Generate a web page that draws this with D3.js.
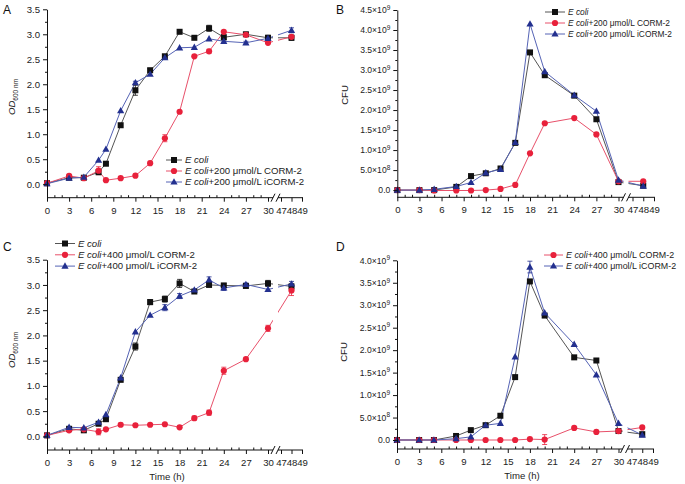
<!DOCTYPE html>
<html><head><meta charset="utf-8">
<script src="https://cdn.jsdelivr.net/npm/d3@7/dist/d3.min.js"></script>
<style>
body{margin:0;background:#fff;}
svg{display:block;font-family:"Liberation Sans",Arial,sans-serif;}
</style></head>
<body><svg id="c" width="685" height="484"></svg>
<script>
// ---------- DATA ----------
const timesOD  = [0,3,5,7,8,10,12,14,16,18,20,22,24,27,30,48];
const timesCFU = [0,3,5,8,10,12,14,16,18,20,24,27,30,48];
const xTickLabels = [0,3,6,9,12,15,18,21,24,27,30,47,48,49];

// Panel A : OD600, 200 µmol/L
const A_ecoli     = [0.02,0.13,0.13,0.24,0.41,1.18,1.88,2.28,2.56,3.05,2.93,3.12,2.94,3.00,2.93,2.93];
const A_ecoliErr  = [0,0,0,0.03,0,0,0.10,0.04,0,0,0,0.06,0.05,0.03,0.05,0.05];
const A_corm      = [0.02,0.165,0.12,0.27,0.08,0.12,0.17,0.42,0.92,1.45,2.56,2.66,3.05,2.99,2.83,2.95];
const A_cormErr   = [0,0,0,0.08,0,0,0,0,0.07,0,0,0.04,0,0,0,0];
const A_icorm     = [0.01,0.12,0.14,0.48,0.70,1.47,2.03,2.20,2.53,2.73,2.74,2.91,2.86,2.83,2.92,3.08];
const A_icormErr  = [0,0,0,0,0,0,0.03,0,0,0,0,0,0.04,0.03,0,0.05];

// Panel B : CFU (×10^9), 200 µmol/L
const B_ecoli = [0,0,0,0.08,0.35,0.42,0.54,1.18,3.44,2.87,2.36,1.77,0.20,0.11];
const B_corm  = [0,0,-0.01,-0.01,-0.01,0,0.03,0.13,0.92,1.67,1.80,1.39,0.22,0.22];
const B_icorm = [0,0,0.02,0.09,0.19,0.43,0.52,1.19,4.15,2.96,2.37,1.97,0.25,0.10];

// Panel C : OD600, 400 µmol/L
const C_ecoli     = [0.02,0.15,0.12,0.25,0.34,1.12,1.78,2.66,2.72,3.03,2.87,3.00,2.99,2.98,3.03,2.97];
const C_ecoliErr  = [0,0,0,0,0.03,0.03,0.07,0.05,0.06,0.08,0,0,0.04,0,0.06,0.05];
const C_corm      = [0.02,0.12,0.14,0.09,0.14,0.23,0.22,0.23,0.24,0.18,0.36,0.47,1.30,1.53,2.14,2.89];
const C_cormErr   = [0,0.03,0,0.06,0,0.03,0,0,0,0,0.04,0.05,0.07,0,0.06,0.10];
const C_icorm     = [0.02,0.18,0.17,0.28,0.43,1.16,2.07,2.40,2.55,2.78,2.90,3.10,2.94,3.01,2.91,3.02];
const C_icormErr  = [0,0,0,0,0,0,0,0,0.06,0.05,0,0.06,0.05,0.03,0,0.05];

// Panel D : CFU (×10^9), 400 µmol/L
const D_ecoli = [0,0,0,0.09,0.22,0.33,0.54,1.40,3.53,2.77,1.84,1.77,0.20,0.13];
const D_corm  = [0,0,0,0,0,0,0,0,0.02,0.01,0.27,0.18,0.20,0.28];
const D_cormErr = [0,0,0,0,0,0,0,0,0,0.11,0,0,0,0];
const D_icorm = [0,0,0,0.03,0.07,0.33,0.37,1.85,3.85,2.83,2.13,1.45,0.37,0.11];
const D_icormErr = [0,0,0,0,0,0,0,0,0.13,0,0,0,0,0];

const odTicks  = [0,0.5,1,1.5,2,2.5,3,3.5];
const cfuTicksB = [0,0.5,1,1.5,2,2.5,3,3.5,4,4.5];
const cfuTicksD = [0,0.5,1,1.5,2,2.5,3,3.5,4];

const legendEcoli = "E coli";
// ---------- STYLE ----------
const COL = {
  k:{mark:"#111", line:"#555"},
  r:{mark:"#e8213b", line:"#e8506a"},
  b:{mark:"#23308f", line:"#5563b5"}
};
const svg = d3.select("#c");
const FS = 9.6;

function cfuLabel(txt, v){
  txt.text(null);
  if (v===0){ txt.text("0.0"); return; }
  let mant, exp;
  if (v<1){ mant=(v*10).toFixed(1); exp="8"; } else { mant=v.toFixed(1); exp="9"; }
  txt.append("tspan").text(mant+"×10");
  txt.append("tspan").attr("dy",-3.5).attr("font-size",6.5).text(exp);
}

function drawMarker(g, type, cx, cy, color){
  if(type==="k") g.append("rect").attr("x",cx-3).attr("y",cy-3).attr("width",6).attr("height",6).attr("fill",color);
  else if(type==="r") g.append("circle").attr("cx",cx).attr("cy",cy).attr("r",3.1).attr("fill",color);
  else g.append("path").attr("d",`M${cx},${cy-3.8}L${cx+3.6},${cy+2.6}L${cx-3.6},${cy+2.6}Z`).attr("fill",color);
}

function panel(cfg){
  const g = svg.append("g");
  const x = d3.scaleLinear().domain([0,30,47,49]).range(cfg.xr);
  const y = d3.scaleLinear().domain(cfg.yDom).range([cfg.bottom,cfg.top]);
  const left = cfg.xr[0], right = cfg.xr[3];
  const brk = cfg.brk;

  // lines
  cfg.series.forEach(s=>{
    const pts = cfg.times.map((t,i)=>[x(t), y(s.vals[i])]);
    g.append("path").attr("d",d3.line()(pts)).attr("fill","none")
      .attr("stroke",COL[s.type].line).attr("stroke-width",1);
  });
  // break gap in lines
  g.append("rect").attr("x",brk-2.5).attr("y",cfg.top-2).attr("width",5).attr("height",cfg.bottom-cfg.top).attr("fill","#fff");
  // error bars
  cfg.series.forEach(s=>{
    cfg.times.forEach((t,i)=>{
      const e = s.err ? s.err[i] : 0;
      const cx = x(t);
      if(e>0){
        const c = COL[s.type].mark;
        g.append("line").attr("x1",cx).attr("x2",cx).attr("y1",y(s.vals[i]-e)).attr("y2",y(s.vals[i]+e)).attr("stroke",c).attr("stroke-width",0.8);
        [s.vals[i]-e,s.vals[i]+e].forEach(v=>g.append("line").attr("x1",cx-2.5).attr("x2",cx+2.5).attr("y1",y(v)).attr("y2",y(v)).attr("stroke",c).attr("stroke-width",0.8));
      }
    });
  });
  cfg.series.forEach(s=>{
    cfg.times.forEach((t,i)=>drawMarker(g,s.type,x(t),y(s.vals[i]),COL[s.type].mark));
  });

  // x axis
  const xa = g.append("g").attr("transform",`translate(0,${cfg.bottom})`)
    .call(d3.axisBottom(x).tickValues(xTickLabels).tickSize(4).tickFormat(d=>d));
  xa.select(".domain").remove();
  xa.selectAll("text").attr("font-size",FS).attr("font-family","Liberation Sans, Arial, sans-serif").attr("fill","#222").attr("dy","0.95em");
  xa.selectAll("line").attr("stroke","#111");
  const minors = d3.range(1,31).filter(v=>v%3!==0);
  const xm = g.append("g").attr("transform",`translate(0,${cfg.bottom})`)
    .call(d3.axisBottom(x).tickValues(minors).tickSize(-2.5).tickFormat(""));
  xm.select(".domain").remove();
  xm.selectAll("line").attr("stroke","#111");
  g.append("line").attr("x1",left).attr("x2",brk-2.5).attr("y1",cfg.bottom).attr("y2",cfg.bottom).attr("stroke","#111");
  g.append("line").attr("x1",brk+2.5).attr("x2",right+1).attr("y1",cfg.bottom).attr("y2",cfg.bottom).attr("stroke","#111");
  [-2.5,2.5].forEach(dx=>g.append("line").attr("x1",brk+dx-2).attr("x2",brk+dx+2).attr("y1",cfg.bottom+4).attr("y2",cfg.bottom-4).attr("stroke","#111"));

  // y axis
  const ya = g.append("g").attr("transform",`translate(${left},0)`)
    .call(d3.axisLeft(y).tickValues(cfg.yTicks).tickSize(4).tickSizeOuter(0).tickFormat(d=>d3.format(".1f")(d)));
  ya.select(".domain").attr("stroke","#111");
  ya.selectAll("line").attr("stroke","#111");
  ya.selectAll("text").attr("font-size",cfg.cfu?8.6:FS).attr("font-family","Liberation Sans, Arial, sans-serif").attr("fill","#222");
  if(cfg.cfu) ya.selectAll(".tick text").each(function(d){ cfuLabel(d3.select(this), d); });
  const ymin = [];
  for(let i=0;i<cfg.yTicks.length-1;i++) ymin.push((cfg.yTicks[i]+cfg.yTicks[i+1])/2);
  const ym = g.append("g").attr("transform",`translate(${left},0)`)
    .call(d3.axisLeft(y).tickValues(ymin).tickSize(2).tickFormat(""));
  ym.select(".domain").remove();
  ym.selectAll("line").attr("stroke","#111");

  // y title
  const yt = g.append("text").attr("transform",`translate(${cfg.ytX},${cfg.ytY}) rotate(-90)`)
    .attr("text-anchor","middle").attr("font-size",FS).attr("fill","#222");
  if(cfg.cfu){ yt.text("CFU"); }
  else {
    yt.append("tspan").attr("font-style","italic").text("OD");
    yt.append("tspan").attr("font-size",6.5).attr("dy",2.5).text("600 nm");
  }
  if(cfg.xTitle) g.append("text").attr("x",cfg.xtX).attr("y",cfg.bottom+30).attr("text-anchor","middle")
    .attr("font-size",FS).attr("fill","#222").text("Time (h)");

  // panel letter
  g.append("text").attr("x",cfg.lx).attr("y",cfg.ly).attr("font-size",12).attr("fill","#111").text(cfg.letter);

  // legend
  const L = cfg.legend;
  L.rows.forEach((r,i)=>{
    const ly = L.y + i*L.dy;
    g.append("line").attr("x1",L.x).attr("x2",L.x+L.w).attr("y1",ly).attr("y2",ly).attr("stroke",COL[r.type].line);
    drawMarker(g,r.type,L.x+L.w/2,ly,COL[r.type].mark);
    const t = g.append("text").attr("x",L.x+L.w+3).attr("y",ly+3.3).attr("font-size",L.fs).attr("fill","#222");
    t.append("tspan").attr("font-style","italic").text(legendEcoli);
    if(r.suffix) t.append("tspan").text(r.suffix);
  });
}

panel({letter:"A",lx:3,ly:14,xr:[47,268,281,302],brk:275.5,top:9.3,bottom:197.7,yDom:[-0.27,3.5],yTicks:odTicks,
  times:timesOD,ytX:15,ytY:97,
  series:[{type:"k",vals:A_ecoli,err:A_ecoliErr},{type:"r",vals:A_corm,err:A_cormErr},{type:"b",vals:A_icorm,err:A_icormErr}],
  legend:{x:166,y:160,dy:11,w:16,fs:9.6,rows:[{type:"k"},{type:"r",suffix:"+200 μmol/L CORM-2"},{type:"b",suffix:"+200 μmol/L iCORM-2"}]}});

panel({letter:"B",lx:336,ly:14,xr:[397.3,618.5,632.5,654],brk:626,top:10,bottom:197.3,yDom:[-0.18,4.5],yTicks:cfuTicksB,cfu:true,
  times:timesCFU,ytX:348,ytY:95,
  series:[{type:"k",vals:B_ecoli},{type:"r",vals:B_corm},{type:"b",vals:B_icorm}],
  legend:{x:545,y:12,dy:11,w:20,fs:8.4,rows:[{type:"k"},{type:"r",suffix:"+200 μmol/L CORM-2"},{type:"b",suffix:"+200 μmol/L iCORM-2"}]}});

panel({letter:"C",lx:3,ly:251,xr:[47,268,281,302],brk:275.5,top:259.7,bottom:450,yDom:[-0.27,3.5],yTicks:odTicks,xTitle:true,xtX:167,
  times:timesOD,ytX:15,ytY:350,
  series:[{type:"k",vals:C_ecoli,err:C_ecoliErr},{type:"r",vals:C_corm,err:C_cormErr},{type:"b",vals:C_icorm,err:C_icormErr}],
  legend:{x:55,y:243.5,dy:11.3,w:20,fs:9.6,rows:[{type:"k"},{type:"r",suffix:"+400 μmol/L CORM-2"},{type:"b",suffix:"+400 μmol/L iCORM-2"}]}});

panel({letter:"D",lx:336,ly:251,xr:[397,618.5,631.5,653],brk:625,top:260.3,bottom:449,yDom:[-0.2,4.0],yTicks:cfuTicksD,cfu:true,xTitle:true,xtX:522,
  times:timesCFU,ytX:347,ytY:352,
  series:[{type:"k",vals:D_ecoli},{type:"r",vals:D_corm,err:D_cormErr},{type:"b",vals:D_icorm,err:D_icormErr}],
  legend:{x:544,y:255,dy:11,w:19,fs:8.9,rows:[{type:"r",suffix:"+400 μmol/L CORM-2"},{type:"b",suffix:"+400 μmol/L iCORM-2"}]}});
</script></body></html>
